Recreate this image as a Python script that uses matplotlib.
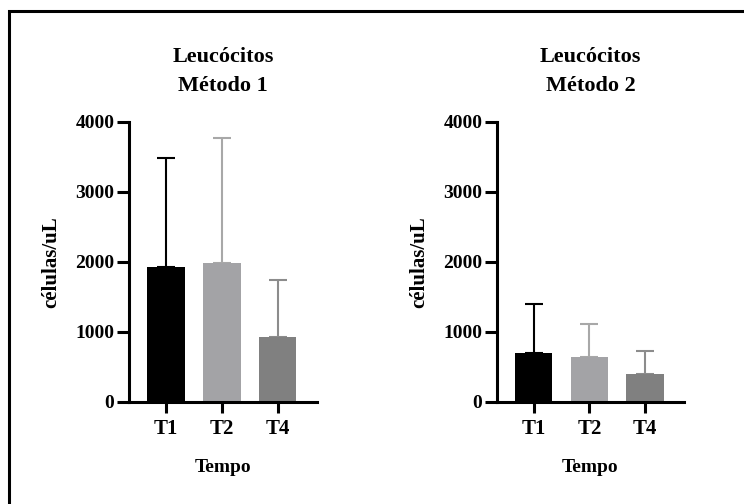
import matplotlib

matplotlib.use("Agg")
import matplotlib.pyplot as plt
from matplotlib.patches import Rectangle

plt.rcParams["font.family"] = ["Liberation Serif", "DejaVu Serif"]
plt.rcParams["font.weight"] = "bold"

# data (mean and upper SD, células/uL)
categories = ["T1", "T2", "T4"]
m1_mean = [1925, 1980, 935]
m1_sd = [1565, 1795, 810]
m2_mean = [705, 638, 400]
m2_sd = [695, 476, 333]
titles = [("Leucócitos", "Método 1"), ("Leucócitos", "Método 2")]
yticks = [0, 1000, 2000, 3000, 4000]

bar_colors = ["#000000", "#a3a3a6", "#808080"]
err_colors = ["#000000", "#a8a8a8", "#8c8c8c"]

fig = plt.figure(figsize=(7.44, 5.04), dpi=100)
# frame around the figure (right/bottom edges fall outside the image)
fig.patches.append(
    Rectangle((9 / 744, -0.05), 1.1, 1 - 11 / 504 + 0.05, transform=fig.transFigure,
              fill=False, lw=2.2, ec="black")
)

axes = [
    fig.add_axes([129 / 744, 0.2024, 188 / 744, 0.5556]),
    fig.add_axes([497 / 744, 0.2024, 187 / 744, 0.5556]),
]
panels = [(axes[0], m1_mean, m1_sd, titles[0]), (axes[1], m2_mean, m2_sd, titles[1])]

for ax, mean, sd, (t1, t2) in panels:
    x = range(len(categories))
    ax.bar(x, mean, width=0.667, color=bar_colors, zorder=2)
    for i in x:
        ax.errorbar(i, mean[i], yerr=[[0], [sd[i]]], color=err_colors[i], lw=1.5,
                    capsize=6.7, capthick=1.5, zorder=1)
    ax.set_xlim(-0.66, 2.7)
    ax.set_ylim(0, 4000)
    ax.set_yticks(yticks)
    ax.set_xticks(list(x))
    ax.set_xticklabels(categories, fontsize=15, fontweight="bold")
    ax.tick_params(axis="y", labelsize=14, width=2.2, length=8.5, pad=2)
    ax.tick_params(axis="x", width=2.2, length=8, pad=4)
    for lab in ax.get_yticklabels():
        lab.set_fontweight("bold")
    for s in ("top", "right"):
        ax.spines[s].set_visible(False)
    for s in ("left", "bottom"):
        ax.spines[s].set_linewidth(2.2)
    ax.set_ylabel("células/uL", fontsize=15, fontweight="bold")
    ax.yaxis.set_label_coords(-0.36, 0.5)
    ax.text(0.5, -0.235, "Tempo", transform=ax.transAxes, ha="center", va="center",
            fontsize=14, fontweight="bold")
    ax.text(0.5, 1.214, t1, transform=ax.transAxes, ha="center", va="baseline",
            fontsize=16, fontweight="bold")
    ax.text(0.5, 1.111, t2, transform=ax.transAxes, ha="center", va="baseline",
            fontsize=16, fontweight="bold")

fig.savefig("out.png", dpi=100)
